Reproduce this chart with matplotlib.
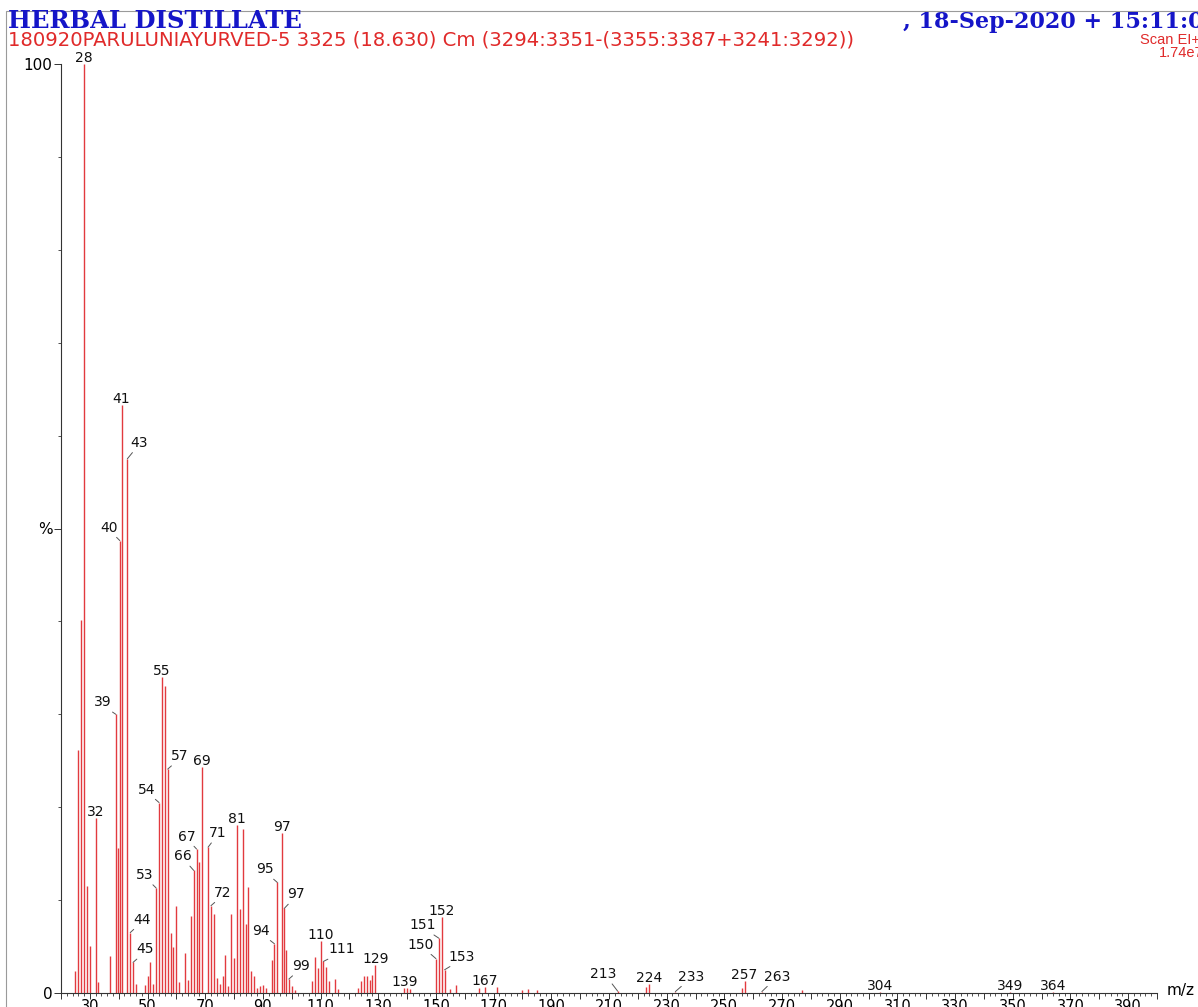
import matplotlib.pyplot as plt
from matplotlib.ticker import MultipleLocator, FuncFormatter
from matplotlib.patches import Rectangle

# centroided peak list (m/z, relative intensity %)
mz = [25, 26, 27, 28, 29, 30, 32, 33, 37, 39, 39.7, 40.4, 41, 43, 44, 45, 46,
      49, 50, 51, 52, 53, 54, 55, 56, 57, 58, 59, 60, 61, 63, 64, 65, 66, 67,
      68, 69, 71, 72, 73, 74, 75, 76, 77, 78, 79, 80, 81, 82, 83, 84, 85, 86,
      87, 88, 89, 90, 91, 93, 94, 95, 96.6, 97.4, 98, 99, 100, 101, 107, 108,
      109, 110, 111, 112, 113, 115, 116, 123, 124, 125, 126, 127, 128, 129,
      139, 140, 141, 150, 151, 152, 153, 155, 157, 165, 167, 171, 180, 182,
      185, 213, 223, 224, 233, 256, 257, 263, 277, 304, 349, 364]
intensity = [2.4, 26.2, 40.2, 100, 11.5, 5.1, 18.8, 1.2, 4.0, 30.0, 15.6, 48.7,
             63.3, 57.5, 6.5, 3.3, 1.0, 0.9, 1.8, 3.3, 1.0, 11.3, 20.5, 34.0,
             33.0, 24.1, 6.5, 5.0, 9.4, 1.2, 4.3, 1.4, 8.3, 13.2, 15.5, 14.1,
             24.3, 15.7, 9.4, 8.5, 1.6, 1.0, 1.8, 4.1, 0.8, 8.5, 3.8, 18.1, 9.0,
             17.7, 7.4, 11.4, 2.4, 1.8, 0.5, 0.7, 0.9, 0.5, 3.5, 5.3, 11.9, 17.2,
             9.1, 4.6, 1.5, 0.7, 0.3, 1.3, 3.9, 2.7, 5.6, 3.4, 2.8, 1.3, 1.5,
             0.4, 0.5, 1.3, 1.8, 1.8, 1.4, 1.9, 3.0, 0.5, 0.5, 0.4, 3.7, 5.9,
             8.2, 2.5, 0.4, 0.9, 0.5, 0.6, 0.6, 0.3, 0.4, 0.3, 0.2, 0.6, 1.0,
             0.15, 0.5, 1.3, 0.15, 0.3, 0.15, 0.15, 0.15]

# labelled peaks and the text shown above them
label_mz = [28, 32, 39, 40.4, 41, 43, 44, 45, 53, 54, 55, 57, 66, 67, 69, 71,
            72, 81, 94, 95, 96.6, 97.4, 99, 110, 111, 129, 139, 150, 151, 152,
            153, 167, 213, 224, 233, 257, 263, 304, 349, 364]
label_text = ["28", "32", "39", "40", "41", "43", "44", "45", "53", "54", "55",
              "57", "66", "67", "69", "71", "72", "81", "94", "95", "97", "97",
              "99", "110", "111", "129", "139", "150", "151", "152", "153",
              "167", "213", "224", "233", "257", "263", "304", "349", "364"]

# labels pushed aside get a leader line (offset of text centre in px)
leader_offset = {39: (-13, 12), 40.4: (-11, 13), 43: (12, 16), 44: (11.5, 13),
                 45: (12, 13), 53: (-11, 13), 54: (-12, 13), 57: (12, 13),
                 66: (-11, 14), 67: (-10, 12.5), 71: (10, 14), 72: (12, 13),
                 94: (-13, 13), 95: (-12, 13), 97.4: (11.5, 14), 99: (12, 13),
                 111: (18, 12), 150: (-15, 14), 151: (-16.5, 13),
                 153: (17.5, 13), 213: (-14, 17), 233: (16, 15), 263: (15, 15)}

W, H = 1198, 1007
fig = plt.figure(figsize=(W / 100, H / 100), dpi=100)
fig.patch.set_facecolor("white")

# thin outer frame of the report page
fig.add_artist(Rectangle((6 / W, -0.5), 2.0, 1.5 - 11 / H, transform=fig.transFigure,
                         fill=False, edgecolor="#9a9a9a", lw=0.8))

ax = fig.add_axes([61 / W, 14 / H, 1096 / W, 929 / H])
ax.vlines(mz, 0, intensity, colors="#e23a3f", lw=1.0)

ax.set_xlim(20, 400)
ax.set_ylim(0, 100)
for s in ["top", "right"]:
    ax.spines[s].set_visible(False)
for s in ["left", "bottom"]:
    ax.spines[s].set_color("#333333")
    ax.spines[s].set_linewidth(0.8)

ax.xaxis.set_major_locator(MultipleLocator(10))
ax.xaxis.set_minor_locator(MultipleLocator(2))
ax.xaxis.set_major_formatter(FuncFormatter(
    lambda v, p: f"{v:.0f}" if round(v) % 20 == 10 and v < 395 else ""))
ax.set_yticks([0, 50, 100])
ax.set_yticklabels(["0", "%", "100"])
ax.yaxis.set_minor_locator(MultipleLocator(10))
ax.tick_params(axis="x", which="major", length=4, width=0.7, pad=0.5,
               labelsize=10.5, color="#333333")
ax.tick_params(axis="x", which="minor", length=2, width=0.6, color="#333333")
ax.tick_params(axis="y", which="major", length=5, width=0.7, pad=1,
               labelsize=11, color="#333333")
ax.tick_params(axis="y", which="minor", length=2.5, width=0.6, color="#333333")

ax.text(1.009, 0.003, "m/z", transform=ax.transAxes, fontsize=11,
        ha="left", va="center")

peak = dict(zip(mz, intensity))
px = 72 / 100
for m, t in zip(label_mz, label_text):
    h = peak[m]
    if m in leader_offset:
        dx, dy = leader_offset[m]
        rel = (0.7, 0.1) if dx < 0 else (0.3, 0.1)
        ax.annotate(t, xy=(m, h), xytext=(dx * px, dy * px),
                    textcoords="offset points", ha="center", va="center",
                    fontsize=10, color="#111111",
                    arrowprops=dict(arrowstyle="-", color="#555555", lw=0.7,
                                    shrinkA=0, shrinkB=0, relpos=rel))
    else:
        ax.annotate(t, xy=(m, h), xytext=(0, 2 * px), textcoords="offset points",
                    ha="center", va="baseline", fontsize=10, color="#111111")

# header block
blue = "#1515c8"
red = "#e02a2a"
fig.text(8 / W, 1 - 28 / H, "HERBAL DISTILLATE", fontsize=17.5,
         family="DejaVu Serif", weight="bold", color=blue, va="baseline")
fig.text(903 / W, 1 - 28 / H, ", 18-Sep-2020 + 15:11:04", fontsize=16,
         family="DejaVu Serif", weight="bold", color=blue, va="baseline")
fig.text(8 / W, 1 - 45 / H,
         "180920PARULUNIAYURVED-5 3325 (18.630) Cm (3294:3351-(3355:3387+3241:3292))",
         fontsize=14.1, color=red, va="baseline")
fig.text(1200 / W, 1 - 44 / H, "Scan EI+", fontsize=10.5, family="Liberation Sans",
         color=red, ha="right", va="baseline")
fig.text(1204 / W, 1 - 57 / H, "1.74e7", fontsize=10.5, family="Liberation Sans",
         color=red, ha="right", va="baseline")

fig.savefig("out.png", dpi=100)
